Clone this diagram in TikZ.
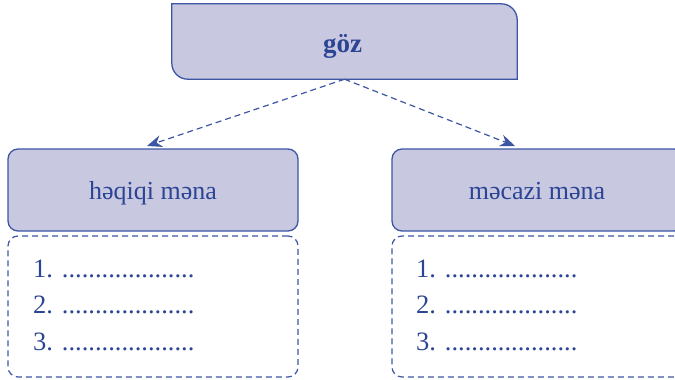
\documentclass[tikz,border=0pt]{standalone}
\usepackage{fontspec}
\setmainfont{Liberation Serif}
\usetikzlibrary{arrows.meta}
\definecolor{boxfill}{HTML}{C8C8E0}
\definecolor{boxline}{HTML}{3C56A3}
\definecolor{txt}{HTML}{2B4594}
\tikzset{
  x=1pt,y=-1pt,
  headbox/.style={draw=boxline,fill=boxfill,line width=1.3pt,rounded corners=10pt,
    minimum width=290pt,minimum height=82pt,inner sep=0pt,text=txt,
    font=\fontsize{26}{30}\selectfont},
  listbox/.style={draw=boxline,line width=1.2pt,dash pattern=on 6pt off 4pt,rounded corners=10pt,
    minimum width=290pt,minimum height=141pt,inner sep=0pt},
  listtext/.style={anchor=base west,inner sep=0pt,text=txt,align=left,
    font=\fontsize{26.5}{36.5}\selectfont},
  conn/.style={draw=boxline,line width=1.2pt,dash pattern=on 6pt off 4pt,
    -{Stealth[length=15pt,width=12pt]}}
}
\begin{document}
\begin{tikzpicture}
\useasboundingbox (0,0) rectangle (675,380);
% top box
\node[minimum width=345pt,minimum height=75pt,inner sep=0pt] (top) at (344.5,41.5) {};
\draw[boxline,fill=boxfill,line width=1.3pt]
  (top.north west) -- ([xshift=-16pt]top.north east)
  arc[start angle=90,end angle=0,radius=16pt]
  -- (top.south east) -- ([xshift=16pt]top.south west)
  arc[start angle=270,end angle=180,radius=16pt] -- cycle;
\node[text=txt,font=\fontsize{27}{30}\selectfont\bfseries,anchor=base] (goz) at (342.5,52) {göz};
% heading boxes
\node[headbox] (hq) at (153,190) {};
\node[text=txt,font=\fontsize{26}{30}\selectfont,anchor=base] (hqt) at (153,199) {həqiqi məna};
\node[headbox,minimum width=292pt] (mc) at (538,190) {};
\node[text=txt,font=\fontsize{26}{30}\selectfont,anchor=base] (mct) at (537,199) {məcazi məna};
% list boxes
\node[listbox] (hl) at (153,306.5) {};
\node[listbox,minimum width=292pt] (ml) at (538,306.5) {};
\node[listtext] (hlt) at (33,350) {1. ....................\\2. ....................\\3. ....................};
\node[listtext] (mlt) at (416,350) {1. ....................\\2. ....................\\3. ....................};
% connectors
\coordinate (ha) at (147,146);
\coordinate (ma) at (515,146);
\draw[conn] (top.south) -- (ha);
\draw[conn] (top.south) -- (ma);
\end{tikzpicture}
\end{document}
